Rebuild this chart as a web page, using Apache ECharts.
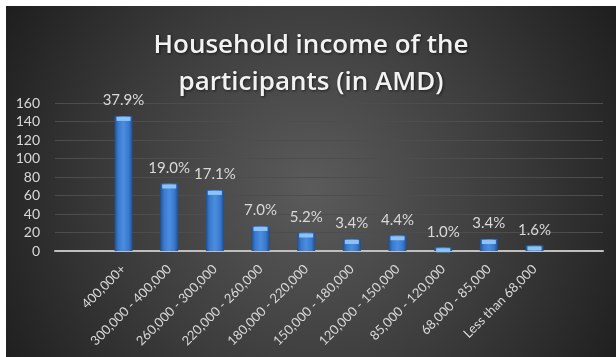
<!DOCTYPE html>
<html>
<head>
<meta charset="utf-8">
<script src="https://cdn.jsdelivr.net/npm/echarts@6/dist/echarts.min.js"></script>
<style>
  html, body { margin: 0; padding: 0; background: #ffffff; }
  #chart { position: absolute; left: 6px; top: 6px; width: 610px; height: 351px; }
</style>
</head>
<body>
<div id="chart"></div>
<script>
// Income brackets (AMD) and number of participants in each
const categories = [
  '400,000+', '300,000 - 400,000', '260,000 - 300,000', '220,000 - 260,000',
  '180,000 - 220,000', '150,000 - 180,000', '120,000 - 150,000',
  '85,000 - 120,000', '68,000 - 85,000', 'Less than 68,000'
];
const counts = [146, 73, 66, 27, 20, 13, 17, 4, 13, 6];
const yTicks = { min: 0, max: 160, interval: 20 };

const total = counts.reduce((a, b) => a + b, 0);
const share = c => (c / total * 100).toFixed(1) + '%';

// one empty slot on each side keeps the outer padding of the category axis
const axisCats = [''].concat(categories, ['']);
const axisVals = [null].concat(counts, [null]);

const labelFont = 'Lato';
const chart = echarts.init(document.getElementById('chart'));
chart.setOption({
  animation: false,
  backgroundColor: {
    type: 'radial', x: 0.5, y: 0.52, r: 1.0,
    colorStops: [
      { offset: 0, color: '#5b5b5b' },
      { offset: 0.55, color: '#3c3c3c' },
      { offset: 1, color: '#1f1f1f' }
    ]
  },
  title: {
    text: 'Household income of the\nparticipants (in AMD)',
    left: 'center',
    top: 16,
    textStyle: {
      color: '#f2f2f2',
      fontFamily: 'Open Sans',
      fontWeight: 600,
      fontSize: 26,
      lineHeight: 37,
      textShadowColor: 'rgba(0,0,0,0.6)',
      textShadowBlur: 3,
      textShadowOffsetX: 1,
      textShadowOffsetY: 1
    }
  },
  grid: { left: 49, right: 13, top: 97, bottom: 106 },
  xAxis: {
    type: 'category',
    data: axisCats,
    axisLine: { lineStyle: { color: '#bfbfbf', width: 2 } },
    axisTick: { show: false },
    axisLabel: {
      interval: 0,
      rotate: 45,
      margin: 16,
      color: '#d9d9d9',
      fontFamily: labelFont,
      fontSize: 13
    }
  },
  yAxis: {
    type: 'value',
    min: yTicks.min,
    max: yTicks.max,
    interval: yTicks.interval,
    axisLine: { show: false },
    axisTick: { show: false },
    splitLine: { lineStyle: { color: '#4d4d4d', width: 1 } },
    axisLabel: {
      margin: 15,
      color: '#d9d9d9',
      fontFamily: labelFont,
      fontSize: 14
    }
  },
  series: [
    {
      type: 'bar',
      data: axisVals,
      barWidth: 18,
      itemStyle: {
        color: {
          type: 'linear', x: 0, y: 0, x2: 1, y2: 0,
          colorStops: [
            { offset: 0, color: '#1d4f8f' },
            { offset: 0.2, color: '#3a78cc' },
            { offset: 0.5, color: '#4a8ee0' },
            { offset: 0.8, color: '#3a78cc' },
            { offset: 1, color: '#1d4f8f' }
          ]
        }
      },
      label: {
        show: true,
        position: 'top',
        distance: 8,
        color: '#d9d9d9',
        fontFamily: labelFont,
        fontSize: 15,
        formatter: p => (p.value == null ? '' : share(p.value))
      }
    },
    {
      // light bevel on the top face of each column
      type: 'pictorialBar',
      data: axisVals,
      symbol: 'rect',
      symbolSize: [14, 4],
      symbolPosition: 'end',
      symbolOffset: [0, 1],
      z: 3,
      itemStyle: { color: '#8cc2f5' },
      silent: true
    }
  ]
});
</script>
</body>
</html>
